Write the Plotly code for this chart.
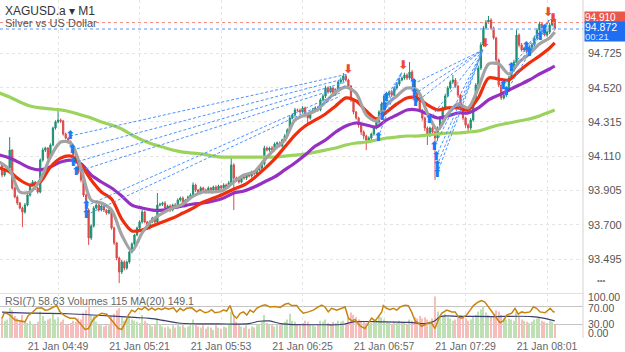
import plotly.graph_objects as go

# ---------------- data ----------------
symbol_line = "XAGUSD.a ▾ M1"
symbol_desc = "Silver vs US Dollar"
tick_labels = ["21 Jan 04:49", "21 Jan 05:21", "21 Jan 05:53", "21 Jan 06:25",
               "21 Jan 06:57", "21 Jan 07:29", "21 Jan 08:01"]
price_ticks = [94.725, 94.520, 94.315, 94.110, 93.905, 93.700, 93.495]
rsi_ticks = [100, 70, 30, 0]

start_minute = 27          # first candle 04:27 (minutes after 04:00)
first_open = 94.058
closes = [
    93.998, 94.028, 94.040, 94.147, 93.920, 93.866, 93.830, 93.800, 93.776, 93.818,
    93.878, 93.938, 93.956, 93.920, 93.896, 94.087, 94.147, 94.159, 94.099, 94.177,
    94.279, 94.315, 94.327, 94.321, 94.243, 94.219, 94.195, 94.171, 94.117, 94.075,
    94.016, 93.968, 93.878, 93.788, 93.621, 93.693, 93.800, 93.818, 93.788, 93.812,
    93.788, 93.770, 93.788, 93.681, 93.591, 93.501, 93.417, 93.477, 93.441, 93.477,
    93.537, 93.585, 93.639, 93.681, 93.717, 93.776, 93.717, 93.681, 93.717, 93.740,
    93.717, 93.818, 93.822, 93.830, 93.800, 93.812, 93.788, 93.818, 93.806, 93.848,
    93.860, 93.818, 93.848, 93.866, 93.878, 93.938, 93.908, 93.890, 93.920, 93.908,
    93.896, 93.920, 93.908, 93.926, 93.908, 93.932, 93.920, 93.938, 93.926, 93.950,
    94.058, 93.980, 93.968, 93.956, 93.986, 93.980, 93.998, 93.992, 94.016, 94.004,
    94.028, 94.040, 94.064, 94.159, 94.147, 94.159, 94.147, 94.183, 94.189, 94.171,
    94.207, 94.231, 94.267, 94.339, 94.357, 94.387, 94.385, 94.375, 94.399, 94.357,
    94.339, 94.375, 94.387, 94.399, 94.387, 94.447, 94.470, 94.518, 94.494, 94.518,
    94.482, 94.506, 94.554, 94.566, 94.590, 94.566, 94.530, 94.447, 94.375, 94.339,
    94.297, 94.255, 94.231, 94.207, 94.219, 94.243, 94.279, 94.315, 94.375, 94.423,
    94.470, 94.482, 94.494, 94.476, 94.518, 94.542, 94.566, 94.578, 94.596, 94.578,
    94.614, 94.566, 94.494, 94.447, 94.387, 94.339, 94.279, 94.237, 94.279, 94.255,
    94.219, 94.279, 94.339, 94.399, 94.470, 94.518, 94.554, 94.566, 94.530, 94.476,
    94.399, 94.339, 94.297, 94.279, 94.327, 94.447, 94.536, 94.638, 94.776, 94.877,
    94.913, 94.925, 94.877, 94.818, 94.686, 94.536, 94.459, 94.476, 94.506, 94.578,
    94.626, 94.674, 94.835, 94.776, 94.746, 94.758, 94.734, 94.764, 94.776, 94.818,
    94.865, 94.901, 94.865, 94.835, 94.853, 94.895, 94.925, 94.872,
]
# wick lengths beyond the body, in points (0.001)
upper_wick_pts = [
    10, 8, 12, 78, 6, 8, 10, 6, 8, 12, 10, 8, 12, 6, 8, 10, 14, 8, 6, 10,
    8, 10, 72, 8, 6, 8, 6, 10, 6, 8, 6, 8, 6, 8, 10, 8, 12, 10, 8, 10,
    8, 6, 10, 6, 8, 6, 8, 12, 10, 8, 8, 10, 6, 8, 10, 14, 8, 6, 10, 8,
    6, 72, 10, 8, 12, 8, 10, 8, 12, 10, 8, 10, 6, 8, 10, 16, 8, 6, 10, 8,
    8, 10, 6, 8, 10, 8, 6, 10, 8, 12, 41, 10, 8, 6, 10, 8, 6, 10, 8, 10,
    8, 10, 12, 14, 10, 8, 12, 10, 8, 10, 8, 12, 10, 16, 10, 12, 8, 10, 12, 8,
    10, 8, 12, 10, 8, 10, 12, 14, 10, 12, 8, 10, 12, 14, 18, 10, 8, 6, 8, 6,
    8, 6, 10, 8, 10, 8, 10, 12, 10, 12, 10, 14, 10, 12, 10, 8, 12, 10, 14, 10,
    60, 12, 8, 6, 8, 6, 8, 10, 8, 10, 8, 10, 12, 10, 14, 12, 10, 30, 12, 8,
    6, 8, 6, 10, 12, 10, 12, 14, 16, 12, 12, 24, 10, 8, 6, 8, 10, 12, 10, 12,
    10, 14, 36, 10, 12, 8, 10, 12, 10, 14, 12, 14, 10, 12, 10, 14, 36, 10,
]
lower_wick_pts = [
    14, 10, 8, 10, 10, 8, 12, 8, 90, 10, 8, 10, 8, 12, 10, 8, 10, 12, 8, 10,
    8, 10, 8, 12, 10, 8, 10, 8, 10, 12, 10, 14, 12, 10, 42, 12, 10, 8, 10, 8,
    12, 10, 8, 10, 12, 14, 66, 12, 14, 10, 10, 8, 10, 8, 12, 10, 8, 12, 10, 8,
    10, 12, 8, 10, 8, 10, 12, 8, 10, 8, 10, 8, 12, 10, 8, 10, 12, 10, 8, 10,
    10, 8, 10, 12, 8, 10, 8, 10, 12, 8, 10, 192, 12, 10, 8, 10, 12, 8, 10, 8,
    10, 8, 12, 10, 8, 10, 12, 8, 10, 8, 10, 8, 12, 10, 8, 10, 8, 12, 10, 14,
    42, 10, 8, 12, 10, 8, 10, 12, 10, 8, 12, 10, 8, 10, 12, 10, 8, 12, 14, 10,
    16, 18, 20, 60, 14, 12, 10, 8, 10, 12, 10, 8, 12, 10, 8, 10, 12, 8, 10, 12,
    10, 12, 10, 14, 12, 16, 18, 60, 12, 20, 251, 14, 10, 12, 10, 8, 10, 12, 10, 14,
    12, 14, 16, 18, 12, 10, 8, 10, 12, 10, 8, 10, 12, 10, 14, 12, 12, 10, 12, 10,
    8, 10, 12, 14, 10, 12, 10, 8, 12, 10, 8, 10, 12, 8, 10, 12, 8, 10,
]
volumes = [
    180, 150, 160, 260, 240, 190, 170, 150, 200, 140, 130, 150, 120, 110, 140, 230, 190, 150, 160, 170,
    210, 160, 180, 140, 160, 120, 110, 130, 150, 140, 170, 160, 220, 240, 280, 200, 190, 140, 120, 110,
    100, 110, 120, 190, 210, 240, 260, 180, 150, 170, 190, 160, 150, 140, 130, 200, 150, 130, 120, 100,
    110, 170, 120, 100, 90, 100, 80, 110, 90, 120, 100, 110, 90, 100, 110, 160, 120, 100, 90, 110,
    80, 100, 90, 70, 110, 90, 80, 100, 90, 120, 230, 190, 140, 110, 100, 90, 110, 80, 100, 90,
    110, 120, 140, 200, 130, 120, 110, 100, 120, 110, 130, 140, 160, 210, 150, 140, 120, 110, 130, 150,
    140, 120, 110, 100, 110, 150, 140, 160, 130, 120, 140, 130, 150, 140, 150, 130, 170, 220, 200, 180,
    160, 150, 140, 130, 120, 130, 150, 160, 190, 180, 160, 140, 130, 120, 140, 130, 150, 140, 130, 120,
    160, 150, 180, 170, 190, 170, 180, 160, 150, 170, 360, 230, 200, 190, 210, 180, 170, 150, 160, 190,
    200, 180, 170, 150, 160, 190, 200, 230, 250, 270, 220, 200, 190, 210, 240, 230, 200, 170, 160, 170,
    160, 150, 230, 190, 160, 150, 140, 130, 140, 160, 170, 180, 150, 140, 130, 150, 140, 115,
]

ma_minutes = list(range(26, 243, 4)) + [244]
ma_fast_gray = [
    94.075, 94.028, 93.896, 93.896, 93.968, 94.105, 94.195, 94.189, 94.040, 93.848,
    93.830, 93.788, 93.639, 93.543, 93.651, 93.728, 93.770, 93.800, 93.824, 93.872,
    93.896, 93.896, 93.908, 93.956, 93.998, 94.016, 94.087, 94.153, 94.207, 94.327,
    94.357, 94.381, 94.435, 94.494, 94.524, 94.488, 94.357, 94.321, 94.417, 94.470,
    94.518, 94.506, 94.369, 94.267, 94.363, 94.423, 94.399, 94.518, 94.662, 94.662,
    94.602, 94.674, 94.722, 94.782, 94.818, 94.853,
]
ma_red = [
    94.040, 94.016, 93.968, 93.938, 93.956, 94.046, 94.099, 94.111, 94.058, 93.968,
    93.896, 93.854, 93.734, 93.663, 93.669, 93.693, 93.717, 93.740, 93.770, 93.800,
    93.836, 93.860, 93.884, 93.914, 93.938, 93.980, 94.034, 94.093, 94.165, 94.237,
    94.291, 94.327, 94.363, 94.411, 94.459, 94.441, 94.381, 94.333, 94.375, 94.423,
    94.459, 94.459, 94.417, 94.387, 94.399, 94.399, 94.387, 94.459, 94.578, 94.572,
    94.566, 94.620, 94.668, 94.710, 94.758, 94.788,
]
ma_purple = [
    94.117, 94.099, 94.070, 94.040, 94.028, 94.046, 94.075, 94.087, 94.064, 93.998,
    93.956, 93.920, 93.872, 93.818, 93.800, 93.788, 93.788, 93.800, 93.812, 93.824,
    93.830, 93.842, 93.860, 93.890, 93.902, 93.926, 93.956, 93.986, 94.028, 94.070,
    94.117, 94.171, 94.207, 94.255, 94.291, 94.309, 94.297, 94.285, 94.327, 94.357,
    94.387, 94.387, 94.363, 94.339, 94.351, 94.369, 94.369, 94.399, 94.447, 94.476,
    94.506, 94.536, 94.566, 94.602, 94.632, 94.650,
]
ma_green = [
    94.488, 94.464, 94.435, 94.411, 94.399, 94.393, 94.387, 94.375, 94.357, 94.339,
    94.315, 94.297, 94.273, 94.237, 94.207, 94.183, 94.165, 94.147, 94.135, 94.129,
    94.123, 94.111, 94.105, 94.105, 94.105, 94.105, 94.105, 94.105, 94.111, 94.117,
    94.123, 94.135, 94.147, 94.159, 94.177, 94.189, 94.195, 94.207, 94.219, 94.225,
    94.231, 94.231, 94.237, 94.243, 94.249, 94.249, 94.255, 94.261, 94.279, 94.297,
    94.309, 94.321, 94.333, 94.351, 94.375, 94.387,
]

# RSI(7) (candle index, value)
rsi_k = [0, 0.8, 1.8, 3.1, 5.1, 7.1, 9.0, 10.3, 11.6, 13.6, 15.6, 16.9, 18.2, 20.2, 21.5, 22.8,
         24.7, 26.7, 28.7, 30.6, 32.6, 33.9, 35.9, 37.8, 39.1, 41.1, 42.4, 43.7, 45.7, 47.0,
         48.3, 49.6, 50.9, 52.2, 53.5, 54.8, 56.1, 57.5, 58.8, 60.1, 61.4, 62.7, 64.0, 65.3,
         67.3, 68.6, 69.9, 71.2, 72.5, 74.5, 76.4, 77.7, 79.7, 81.0, 82.3, 83.6, 85.6, 86.9,
         88.2, 89.5, 90.8, 92.1, 93.5, 94.8, 96.1, 97.4, 98.7, 100.0, 102.0, 103.3, 105.2,
         107.2, 109.2, 111.1, 112.4, 113.7, 115.7, 117.0, 118.3, 120.3, 122.2, 124.2, 125.5,
         126.8, 128.1, 129.4, 131.4, 133.4, 134.7, 136.0, 137.3, 138.6, 140.6, 142.5, 143.8,
         145.1, 146.5, 147.8, 149.1, 149.7, 151.0, 152.3, 153.6, 155.0, 156.3, 158.2, 159.5,
         160.8, 162.2, 163.5, 164.8, 166.1, 167.4, 168.7, 170.0, 171.3, 172.6, 174.6, 176.6,
         177.9, 179.2, 180.5, 182.4, 183.8, 185.1, 187.0, 188.3, 189.6, 191.0, 192.9, 194.2,
         195.5, 196.8, 198.2, 200.1, 201.4, 202.7, 204.0, 205.3, 207.3, 208.6, 209.9, 211.2,
         213.2, 215.2, 216.5, 217.0]
rsi_vals = [44, 55, 55, 51, 40, 38, 36, 50, 55, 66, 67, 62, 63, 69, 72, 58,
            49, 44, 44, 33, 19, 21, 42, 51, 55, 53, 44, 33, 21, 19,
            33, 51, 62, 58, 66, 63, 69, 62, 67, 62, 66, 63, 67, 64,
            67, 58, 66, 61, 66, 67, 58, 63, 56, 58, 63, 56, 58, 62,
            60, 72, 51, 44, 55, 58, 51, 62, 57, 66, 72, 74, 69,
            70, 68, 75, 77, 72, 72, 62, 55, 58, 62, 69, 73,
            69, 58, 66, 62, 66, 69, 44, 38, 41, 27, 21, 33,
            44, 38, 47, 58, 72, 66, 63, 66, 62, 69, 73, 72,
            58, 38, 33, 26, 30, 34, 33, 21, 41, 55, 62, 58,
            58, 47, 44, 51, 62, 72, 80, 83, 80, 69, 55, 44,
            34, 38, 51, 55, 66, 53, 58, 56, 58, 69, 66, 58,
            56, 66, 58, 58.63]

# Volume MA(20) (candle index, value)
vol_ma_k = [0, 13, 26, 39, 52, 58, 64, 70, 85, 97, 101, 105, 110, 125, 134, 138, 150,
            160, 167, 170, 172, 180, 192, 208, 213, 217]
vol_ma_vals = [225, 215, 210, 195, 178, 170, 150, 128, 122, 125, 145, 148, 122, 115, 119,
               140, 140, 135, 126, 150, 185, 188, 186, 186, 170, 149.1]

# signal arrows (minute, price)
buy_minutes = [53.7, 54.5, 54.9, 56.1, 60.0, 60.0,
               174.6, 176.2, 177.0, 177.8,
               188.4, 188.8, 189.2, 194.6, 196.6, 197.4, 197.8, 197.8,
               223.7, 224.9, 226.8, 232.7, 233.9, 238.2, 239.8]
buy_prices = [94.231, 94.147, 94.070, 94.016, 93.812, 93.758,
              94.219, 94.345, 94.405, 94.459,
              94.542, 94.482, 94.429, 94.327, 94.165, 94.105, 94.052, 94.004,
              94.530, 94.494, 94.638, 94.764, 94.728, 94.824, 94.865]
link_minutes = [162.8, 162.5, 162.1, 161.7, 160.5, 159.7,
                184.0, 184.0, 184.0, 184.0,
                215.8, 215.8, 215.8, 215.8, 215.8, 215.8, 215.8, 215.8,
                241.8, 241.8, 241.8, 241.8, 241.8, 241.8, 241.8]
link_prices = [94.602, 94.578, 94.554, 94.530, 94.494, 94.470,
               94.614, 94.614, 94.614, 94.614,
               94.746, 94.746, 94.746, 94.746, 94.746, 94.746, 94.746, 94.746,
               94.925, 94.925, 94.925, 94.925, 94.925, 94.925, 94.925]
sell_minutes = [162.8, 184.4, 216.6, 241.4, 243.3]
sell_prices = [94.626, 94.650, 94.782, 94.967, 94.931]

ask_price = 94.910
bid_price = 94.872
countdown = "00:21"
rsi_value = 58.63
last_volume = 115
vol_ma_last = 149.1

# ---------------- derived ----------------
n = len(closes)
minutes = [start_minute + i for i in range(n)]
opens = [first_open] + closes[:-1]
highs = [max(o, c) + u / 1000 for o, c, u in zip(opens, closes, upper_wick_pts)]
lows = [min(o, c) - d / 1000 for o, c, d in zip(opens, closes, lower_wick_pts)]
vol_colors = ["#BFE0B5" if c >= o else "#F7BDBD" for o, c in zip(opens, closes)]
tick_minutes = [int(t[-5:-3]) * 60 + int(t[-2:]) - 240 for t in tick_labels]

Y_RANGE = [93.3096, 95.0449]
FONT = "Liberation Sans, Arial, sans-serif"
fig = go.Figure()

# volume bars + MA (bottom panel)
fig.add_trace(go.Bar(x=minutes, y=volumes, marker_color=vol_colors, marker_line_width=0,
                     width=0.45, xaxis="x2", yaxis="y2"))
fig.add_trace(go.Scatter(x=[start_minute + k for k in vol_ma_k], y=vol_ma_vals, mode="lines",
                         line=dict(color="#3B3F6E", width=1.2, shape="spline"),
                         xaxis="x2", yaxis="y2"))
# RSI
fig.add_trace(go.Scatter(x=[start_minute + k for k in rsi_k], y=rsi_vals, mode="lines",
                         line=dict(color="#C8840C", width=1.5), xaxis="x2", yaxis="y3"))

# moving averages
for vals, col in [(ma_green, "#9BD35C"), (ma_purple, "#9530C3"),
                  (ma_red, "#EE2E0C"), (ma_fast_gray, "#A3A3A3")]:
    fig.add_trace(go.Scatter(x=ma_minutes, y=vals, mode="lines",
                             line=dict(color=col, width=3.2, shape="spline", smoothing=0.8),
                             xaxis="x", yaxis="y"))

# candles
fig.add_trace(go.Candlestick(
    x=minutes, open=opens, high=highs, low=lows, close=closes,
    increasing=dict(line=dict(color="#1F8F72", width=1), fillcolor="#1F8F72"),
    decreasing=dict(line=dict(color="#DC4B4B", width=1), fillcolor="#DC4B4B"),
    whiskerwidth=0, xaxis="x", yaxis="y"))

# signal links
lx, ly = [], []
for x0, y0, x1, y1 in zip(buy_minutes, buy_prices, link_minutes, link_prices):
    lx += [x0, x1, None]
    ly += [y0, y1, None]
fig.add_trace(go.Scatter(x=lx, y=ly, mode="lines",
                         line=dict(color="#4C93FF", width=1, dash="3px,2px"),
                         xaxis="x", yaxis="y"))
# signal arrows
fig.add_trace(go.Scatter(x=buy_minutes, y=buy_prices, mode="text", text=["⬆"] * len(buy_minutes),
                         textfont=dict(family="DejaVu Sans", size=12, color="#1A7CF5",
                                       weight="bold"),
                         textposition="middle center", xaxis="x", yaxis="y"))
fig.add_trace(go.Scatter(x=sell_minutes, y=sell_prices, mode="text", text=["⬇"] * len(sell_minutes),
                         textfont=dict(family="DejaVu Sans", size=12, color="#EC4A35",
                                       weight="bold"),
                         textposition="middle center", xaxis="x", yaxis="y"))

x_range = [26.2, 255.1]
grid = dict(showgrid=True, gridcolor="#E4E4E4", griddash="dot", gridwidth=1)
fig.update_layout(
    width=625, height=352, margin=dict(l=0, r=42, t=0, b=14),
    paper_bgcolor="white", plot_bgcolor="white", showlegend=False,
    font=dict(family=FONT, color="#555"),
    xaxis=dict(domain=[0, 1], anchor="y", range=x_range, tickvals=tick_minutes,
               showticklabels=False, zeroline=False, rangeslider=dict(visible=False),
               ticks="", **grid),
    xaxis2=dict(domain=[0, 1], anchor="y2", range=x_range, matches="x", tickvals=tick_minutes,
                ticktext=tick_labels, tickfont=dict(size=10.5, color="#666"), ticks="",
                zeroline=False, **grid),
    yaxis=dict(domain=[0.142, 1], anchor="x", range=Y_RANGE, side="right",
               tickvals=price_ticks, ticktext=[f"{p:.3f}" for p in price_ticks],
               tickfont=dict(size=11, color="#555"), ticks="", zeroline=False,
               ticklabelstandoff=4, **grid),
    yaxis2=dict(domain=[0, 0.1331], anchor="x2", range=[0, 390], visible=False),
    yaxis3=dict(overlaying="y2", anchor="x2", range=[0, 100], visible=False),
)

shapes = []
for lv in [100, 70, 30]:
    shapes.append(dict(type="line", xref="x2 domain", x0=0, x1=1, yref="y3", y0=lv, y1=lv,
                       line=dict(color="#C4C4C4", width=1), layer="below"))
shapes.append(dict(type="line", xref="paper", x0=1, x1=1, yref="paper", y0=0, y1=1,
                   line=dict(color="#D4D4D4", width=1)))
shapes.append(dict(type="line", xref="x domain", x0=0, x1=1, yref="y", y0=ask_price, y1=ask_price,
                   line=dict(color="#F08C84", width=1, dash="dot")))
shapes.append(dict(type="line", xref="x domain", x0=0, x1=1, yref="y", y0=bid_price, y1=bid_price,
                   line=dict(color="#8DB8FF", width=1.5, dash="dot")))
fig.update_layout(shapes=shapes)

ann = [
    dict(text=symbol_line, xref="paper", yref="paper", x=0, y=1, xanchor="left", yanchor="top",
         xshift=3, yshift=-2, showarrow=False, font=dict(size=12, color="#333")),
    dict(text=symbol_desc, xref="paper", yref="paper", x=0, y=1, xanchor="left", yanchor="top",
         xshift=3, yshift=-15, showarrow=False, font=dict(size=11, color="#555")),
    dict(text=f"RSI(7) {rsi_value:.2f} Volumes {last_volume} MA(20) {vol_ma_last}",
         xref="paper", yref="y3", x=0, y=100, xanchor="left", yanchor="top", xshift=3,
         yshift=0, showarrow=False, font=dict(size=10.5, color="#666")),
    dict(text="•••", xref="paper", yref="y", x=1, y=93.495, xanchor="left", yanchor="middle",
         xshift=12, yshift=-21, showarrow=False, font=dict(size=8, color="#777")),
]
rsi_shift = {100: -4, 70: -1, 30: 1, 0: 5}
for lv in rsi_ticks:
    ann.append(dict(text=f"{lv:.2f}", xref="paper", yref="y3", x=1, y=lv, xanchor="left",
                    yanchor="middle", xshift=3, yshift=rsi_shift[lv], showarrow=False,
                    font=dict(size=10.5, color="#555")))
# price labels: ask (red) just above the bid label (blue)
ann.append(dict(text=f"{ask_price:.3f}", xref="paper", yref="y", x=1, y=ask_price,
                xanchor="left", yanchor="middle", xshift=1, yshift=6, showarrow=False,
                width=41, height=10, borderpad=0, align="left", bgcolor="#E9574C",
                font=dict(size=10, color="white")))
ann.append(dict(text=f"{bid_price:.3f}", xref="paper", yref="y", x=1, y=bid_price,
                xanchor="left", yanchor="middle", xshift=1, yshift=1.5, showarrow=False,
                width=41, height=10, borderpad=0, align="left", bgcolor="#1D6EF2",
                font=dict(size=10.5, color="white")))
ann.append(dict(text=countdown, xref="paper", yref="y", x=1, y=bid_price,
                xanchor="left", yanchor="middle", xshift=1, yshift=-8, showarrow=False,
                width=41, height=9, borderpad=0, align="left", bgcolor="#1D6EF2",
                font=dict(size=9.5, color="#DCE8FF")))
fig.update_layout(annotations=ann)

fig.write_html("out.html")
